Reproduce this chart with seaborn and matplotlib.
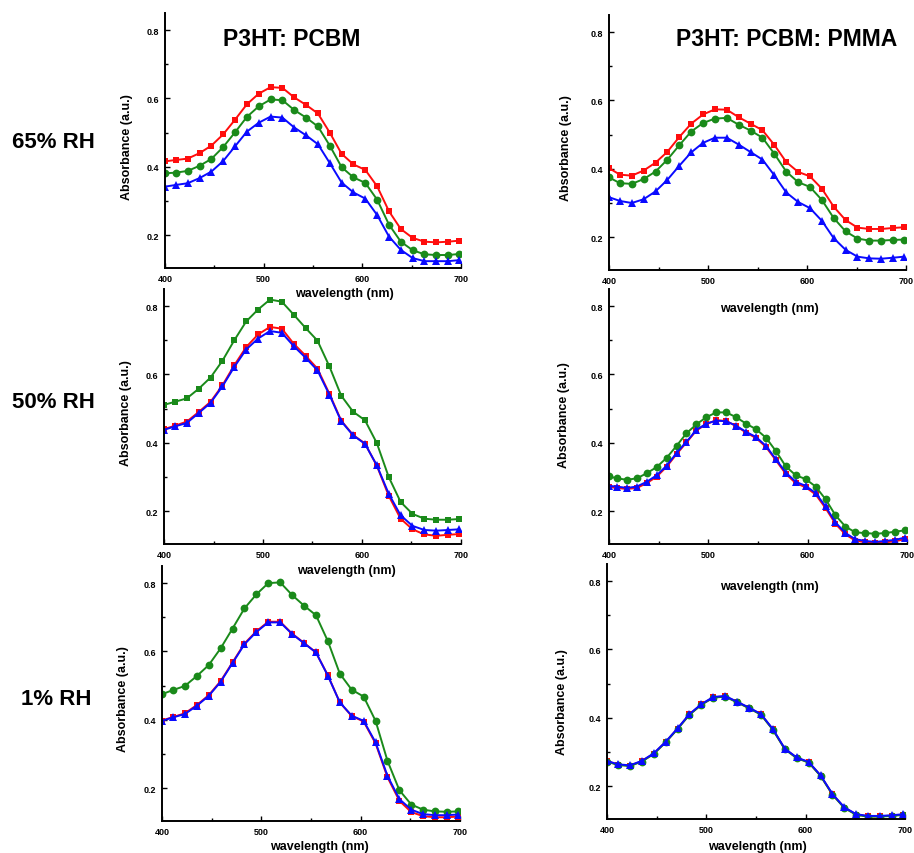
import seaborn as sns
import matplotlib.pyplot as plt
from matplotlib.ticker import MultipleLocator

sns.set_style("ticks")
plt.rcParams['font.family'] = ['Liberation Sans', 'DejaVu Sans']
plt.rcParams['font.weight'] = 'bold'
plt.rcParams['axes.labelweight'] = 'bold'
for key in ('text.color', 'axes.labelcolor', 'xtick.color', 'ytick.color'):
    plt.rcParams[key] = 'black'

# %% Data (absorbance)

wl_12 = [400, 411, 423, 435, 447, 459, 471, 483, 495, 507, 519, 531, 543,
         555, 567, 579, 591, 603, 615, 627, 639, 651, 663, 675, 687, 698]
wl_10 = [400, 408, 418, 428, 438, 448, 458, 468, 478, 488, 498, 508, 518, 528, 538, 548,
         558, 568, 578, 588, 598, 608, 618, 628, 638, 648, 658, 668, 678, 688, 698]

row_labels = ['65% RH', '50% RH', '1% RH']
col_titles = ['P3HT: PCBM', 'P3HT: PCBM: PMMA']

# P3HT:PCBM, 65% RH
tl_red = [0.416, 0.420, 0.424, 0.440, 0.462, 0.495, 0.538, 0.583, 0.614, 0.633, 0.631, 0.603, 0.581,
          0.556, 0.500, 0.438, 0.407, 0.391, 0.343, 0.270, 0.218, 0.192, 0.181, 0.179, 0.181, 0.184]
tl_green = [0.381, 0.383, 0.388, 0.403, 0.423, 0.458, 0.501, 0.546, 0.577, 0.597, 0.595, 0.566, 0.544,
            0.518, 0.462, 0.399, 0.369, 0.353, 0.304, 0.231, 0.181, 0.156, 0.144, 0.142, 0.142, 0.145]
tl_blue = [0.342, 0.347, 0.352, 0.367, 0.386, 0.417, 0.460, 0.503, 0.529, 0.547, 0.544, 0.515, 0.492,
           0.466, 0.411, 0.354, 0.325, 0.307, 0.259, 0.196, 0.157, 0.133, 0.124, 0.124, 0.124, 0.127]

# P3HT:PCBM:PMMA, 65% RH
tr_red = [0.402, 0.383, 0.380, 0.395, 0.418, 0.450, 0.493, 0.532, 0.559, 0.574, 0.573, 0.551, 0.532,
          0.513, 0.470, 0.420, 0.391, 0.378, 0.342, 0.289, 0.250, 0.228, 0.224, 0.224, 0.227, 0.229]
tr_green = [0.375, 0.358, 0.356, 0.370, 0.392, 0.427, 0.469, 0.509, 0.534, 0.547, 0.549, 0.529, 0.512,
            0.491, 0.444, 0.392, 0.361, 0.347, 0.309, 0.256, 0.217, 0.196, 0.190, 0.190, 0.192, 0.193]
tr_blue = [0.317, 0.306, 0.300, 0.311, 0.334, 0.368, 0.409, 0.448, 0.476, 0.491, 0.491, 0.471, 0.449,
           0.427, 0.381, 0.331, 0.303, 0.285, 0.248, 0.197, 0.163, 0.143, 0.138, 0.137, 0.140, 0.143]

# P3HT:PCBM, 50% RH
ml_red = [0.440, 0.450, 0.462, 0.490, 0.520, 0.568, 0.627, 0.680, 0.717, 0.739, 0.734, 0.690, 0.655,
          0.617, 0.544, 0.465, 0.423, 0.398, 0.333, 0.245, 0.178, 0.147, 0.132, 0.128, 0.131, 0.133]
ml_green = [0.511, 0.520, 0.530, 0.558, 0.591, 0.640, 0.700, 0.755, 0.790, 0.819, 0.813, 0.775, 0.736,
            0.699, 0.624, 0.538, 0.491, 0.466, 0.399, 0.300, 0.227, 0.192, 0.178, 0.175, 0.175, 0.177]
ml_blue = [0.438, 0.448, 0.458, 0.487, 0.517, 0.565, 0.622, 0.673, 0.705, 0.727, 0.722, 0.683, 0.649,
           0.612, 0.541, 0.463, 0.422, 0.397, 0.334, 0.251, 0.188, 0.157, 0.145, 0.143, 0.145, 0.147]

# P3HT:PCBM:PMMA, 50% RH (10 nm step)
mr_red = [0.271, 0.268, 0.265, 0.268, 0.282, 0.301, 0.330, 0.367, 0.401, 0.436, 0.455, 0.466, 0.464,
          0.449, 0.430, 0.414, 0.388, 0.349, 0.309, 0.282, 0.270, 0.249, 0.209, 0.163, 0.132, 0.114,
          0.109, 0.107, 0.109, 0.112, 0.118]
mr_green = [0.302, 0.296, 0.292, 0.296, 0.311, 0.329, 0.356, 0.391, 0.428, 0.454, 0.475, 0.489, 0.489,
            0.475, 0.456, 0.440, 0.415, 0.376, 0.331, 0.305, 0.294, 0.272, 0.235, 0.188, 0.155, 0.138,
            0.136, 0.134, 0.136, 0.140, 0.144]
mr_blue = [0.274, 0.272, 0.268, 0.272, 0.286, 0.305, 0.333, 0.370, 0.403, 0.438, 0.456, 0.465, 0.463,
           0.450, 0.432, 0.417, 0.391, 0.352, 0.313, 0.286, 0.274, 0.253, 0.214, 0.167, 0.136, 0.118,
           0.113, 0.110, 0.113, 0.116, 0.123]

# P3HT:PCBM, 1% RH
bl_red = [0.398, 0.408, 0.419, 0.443, 0.472, 0.513, 0.568, 0.623, 0.659, 0.687, 0.687, 0.652, 0.625,
          0.597, 0.530, 0.451, 0.411, 0.395, 0.331, 0.232, 0.163, 0.130, 0.118, 0.115, 0.115, 0.117]
bl_green = [0.475, 0.487, 0.499, 0.528, 0.560, 0.609, 0.667, 0.726, 0.767, 0.800, 0.802, 0.765, 0.734,
            0.706, 0.630, 0.535, 0.488, 0.468, 0.397, 0.280, 0.194, 0.152, 0.137, 0.132, 0.131, 0.132]
bl_blue = [0.397, 0.407, 0.417, 0.441, 0.470, 0.511, 0.566, 0.621, 0.657, 0.685, 0.685, 0.651, 0.624,
           0.597, 0.529, 0.451, 0.412, 0.397, 0.334, 0.236, 0.168, 0.137, 0.124, 0.121, 0.121, 0.123]

# P3HT:PCBM:PMMA, 1% RH
br_red = [0.273, 0.263, 0.260, 0.273, 0.295, 0.329, 0.368, 0.410, 0.439, 0.460, 0.463, 0.446, 0.429,
          0.410, 0.366, 0.309, 0.283, 0.270, 0.231, 0.176, 0.137, 0.117, 0.112, 0.112, 0.114, 0.117]
br_green = [0.272, 0.262, 0.259, 0.272, 0.294, 0.328, 0.367, 0.409, 0.438, 0.459, 0.462, 0.445, 0.428,
            0.409, 0.365, 0.308, 0.282, 0.269, 0.230, 0.175, 0.136, 0.116, 0.111, 0.111, 0.113, 0.116]
br_blue = [0.274, 0.264, 0.261, 0.274, 0.296, 0.330, 0.369, 0.411, 0.440, 0.461, 0.464, 0.447, 0.430,
           0.411, 0.367, 0.310, 0.284, 0.271, 0.232, 0.177, 0.138, 0.118, 0.113, 0.113, 0.115, 0.118]

RED, GREEN, BLUE = '#ff0d0d', '#1a8a1a', '#0a0aff'
MARKER_SIZE = {'s': 5.0, 'o': 5.6, '^': 6.4}

# %% Layout (pixel boxes: left, top, right, bottom; label centres)

W, H = 914, 854
fig = plt.figure(figsize=(W / 100, H / 100), dpi=100)


def fx(x):
    return x / W


def fy(y):
    return 1 - y / H


panels = [
    dict(box=(165, 14, 461, 269), xl=(344, 295), yl=(126, 147), x=wl_12,
         series=[(tl_red, RED, 's'), (tl_green, GREEN, 'o'), (tl_blue, BLUE, '^')]),
    dict(box=(609, 16, 906, 271), xl=(769, 310), yl=(565, 148), x=wl_12,
         series=[(tr_red, RED, 's'), (tr_green, GREEN, 'o'), (tr_blue, BLUE, '^')]),
    dict(box=(164, 290, 461, 545), xl=(346, 572), yl=(125, 413), x=wl_12,
         series=[(ml_red, RED, 's'), (ml_green, GREEN, 's'), (ml_blue, BLUE, '^')]),
    dict(box=(609, 290, 907, 545), xl=(769, 588), yl=(563, 415), x=wl_10,
         series=[(mr_red, RED, 's'), (mr_green, GREEN, 'o'), (mr_blue, BLUE, '^')]),
    dict(box=(162, 567, 460, 822), xl=(319, 848), yl=(122, 699), x=wl_12,
         series=[(bl_red, RED, 's'), (bl_green, GREEN, 'o'), (bl_blue, BLUE, '^')]),
    dict(box=(607, 565, 905, 820), xl=(757, 848), yl=(561, 702), x=wl_12,
         series=[(br_red, RED, 's'), (br_green, GREEN, 'o'), (br_blue, BLUE, '^')]),
]

# %% Plot

for p in panels:
    left, top, right, bottom = p['box']
    ax = fig.add_axes([fx(left), fy(bottom), (right - left) / W, (bottom - top) / H])
    ax.set_facecolor('none')
    for vals, color, marker in p['series']:
        sns.lineplot(x=p['x'], y=vals, color=color, marker=marker,
                     markersize=MARKER_SIZE[marker], markeredgewidth=0,
                     linewidth=1.4, ax=ax)
    ax.set_xlim(400, 700)
    ax.set_ylim(0.104, 0.85)
    ax.xaxis.set_major_locator(MultipleLocator(100))
    ax.xaxis.set_minor_locator(MultipleLocator(50))
    ax.yaxis.set_major_locator(MultipleLocator(0.2))
    ax.yaxis.set_minor_locator(MultipleLocator(0.1))
    ax.tick_params(which='both', direction='in', width=1, labelsize=6.5, pad=4)
    ax.tick_params(which='major', length=3.5)
    ax.tick_params(which='minor', length=2.5)
    sns.despine(ax=ax)
    for side in ('left', 'bottom'):
        ax.spines[side].set_linewidth(1.4)
        ax.spines[side].set_color('black')

    ax.set_xlabel('wavelength (nm)', fontsize=9, fontweight='bold')
    ax.set_ylabel('Absorbance (a.u.)', fontsize=9, fontweight='bold')
    xlx, xly = p['xl']
    ax.xaxis.set_label_coords(fx(xlx), fy(xly - 7), transform=fig.transFigure)
    ylx, yly = p['yl']
    ax.yaxis.set_label_coords(fx(ylx + 7), fy(yly), transform=fig.transFigure)

fig.text(fx(292), fy(40), col_titles[0], ha='center', va='center', fontsize=16.5, fontweight='bold')
fig.text(fx(787), fy(40), col_titles[1], ha='center', va='center', fontsize=16.5, fontweight='bold')
for label, (x, y) in zip(row_labels, [(53, 143), (53, 403), (56, 700)]):
    fig.text(fx(x), fy(y), label, ha='center', va='center', fontsize=16, fontweight='bold')

fig.savefig('out.png', dpi=100)
